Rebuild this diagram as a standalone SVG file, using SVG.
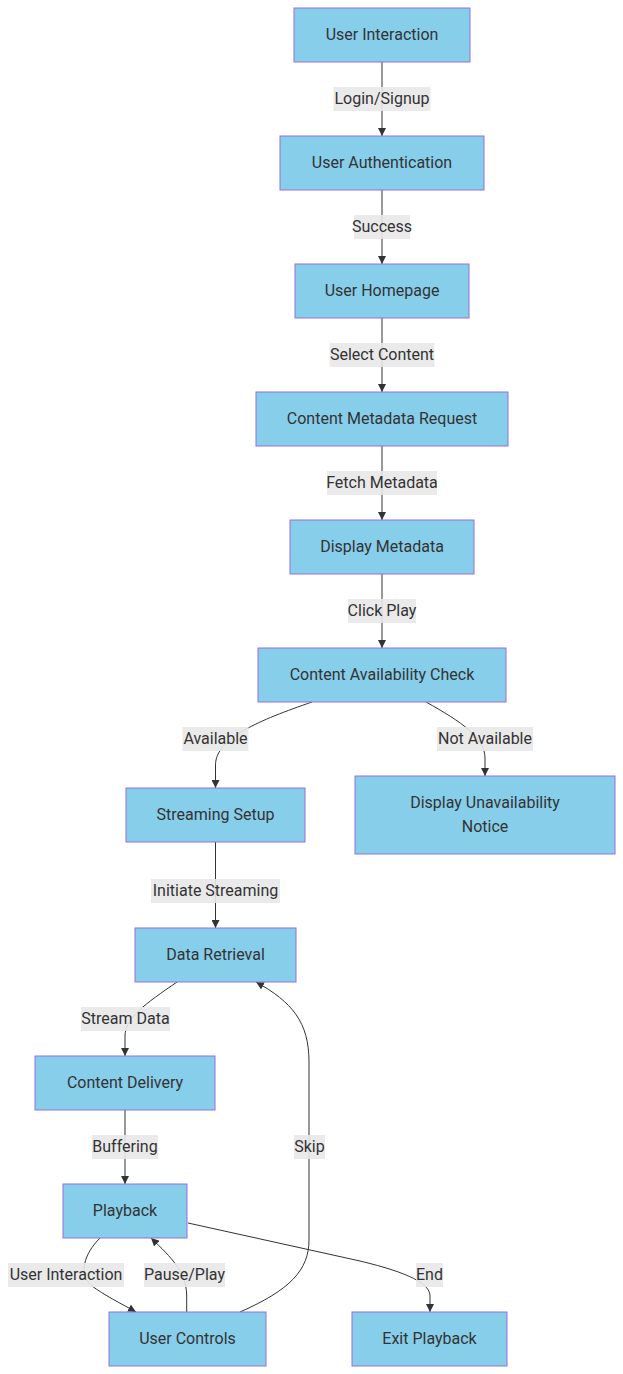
<svg xmlns="http://www.w3.org/2000/svg" width="623" height="1374" viewBox="0 0 623 1374">
<style>
.node rect{fill:#87CEEB;stroke:#9370DB;stroke-width:1}
text{font-family:Roboto,"Noto Sans",sans-serif;font-size:16px;fill:#333;text-anchor:middle;dominant-baseline:central}
.edge{fill:none;stroke:#333;stroke-width:1;marker-end:url(#arrow)}
.lbl rect{fill:#e8e8e8;opacity:0.9}
</style>
<defs>
<marker id="arrow" viewBox="0 0 10 10" refX="10" refY="5" markerWidth="8" markerHeight="8" markerUnits="userSpaceOnUse" orient="auto">
<path d="M0,0 L10,5 L0,10 z" fill="#333"/>
</marker>
</defs>
<rect width="623" height="1374" fill="#fff"/>
<g id="connectors">
<path class="edge" d="M382,62 L382,136"/>
<path class="edge" d="M382,190 L382,264"/>
<path class="edge" d="M382,318 L382,392"/>
<path class="edge" d="M382,446 L382,520"/>
<path class="edge" d="M382,574 L382,648"/>
<path class="edge" d="M312,702 C260,720 215.5,738 215.5,765 L215.5,788"/>
<path class="edge" d="M426,702 C462,722 485,738 485,758 L485,776"/>
<path class="edge" d="M215.5,842 L215.5,928"/>
<path class="edge" d="M177,982 C145,1004 125,1018 125,1036 L125,1056"/>
<path class="edge" d="M125,1110 L125,1184"/>
<path class="edge" d="M100,1238 C84,1254 78,1274 92,1286 C104,1295 120,1303 136,1312"/>
<path class="edge" d="M186.7,1312 L186.7,1295 C186,1272 172,1258 151,1238"/>
<path class="edge" d="M240,1312 C290,1290 309,1270 309,1240 L309,1062 C309,1022 292,1002 256,982"/>
<path class="edge" d="M188,1223 L360,1261 C410,1273 430,1284 430,1296 L430,1312"/>
</g>
<g id="labels">
<g class="lbl"><rect x="333.5" y="87" width="97" height="24"/><text x="382" y="98">Login/Signup</text></g>
<g class="lbl"><rect x="354" y="215" width="56" height="24"/><text x="382" y="226">Success</text></g>
<g class="lbl"><rect x="329.5" y="343" width="105" height="24"/><text x="382" y="354">Select Content</text></g>
<g class="lbl"><rect x="327" y="471" width="110" height="24"/><text x="382" y="482">Fetch Metadata</text></g>
<g class="lbl"><rect x="348" y="599" width="68" height="24"/><text x="382" y="610">Click Play</text></g>
<g class="lbl"><rect x="182.5" y="727" width="66" height="24"/><text x="215.5" y="738">Available</text></g>
<g class="lbl"><rect x="437" y="727" width="96" height="24"/><text x="485" y="738">Not Available</text></g>
<g class="lbl"><rect x="151" y="879" width="129" height="24"/><text x="215.5" y="890">Initiate Streaming</text></g>
<g class="lbl"><rect x="81" y="1007" width="89" height="24"/><text x="125.5" y="1018">Stream Data</text></g>
<g class="lbl"><rect x="92" y="1135" width="66" height="24"/><text x="125" y="1146">Buffering</text></g>
<g class="lbl"><rect x="294" y="1135" width="31" height="24"/><text x="309.5" y="1146">Skip</text></g>
<g class="lbl"><rect x="8" y="1263" width="116" height="24"/><text x="66" y="1274">User Interaction</text></g>
<g class="lbl"><rect x="144" y="1263" width="81" height="24"/><text x="184.5" y="1274">Pause/Play</text></g>
<g class="lbl"><rect x="416" y="1263" width="27" height="24"/><text x="429.5" y="1274">End</text></g>
</g>
<g id="n1" class="node"><rect x="294" y="8" width="176" height="54"/><text x="382" y="34">User Interaction</text></g>
<g id="n2" class="node"><rect x="280" y="136" width="204" height="54"/><text x="382" y="162">User Authentication</text></g>
<g id="n3" class="node"><rect x="295" y="264" width="174" height="54"/><text x="382" y="290">User Homepage</text></g>
<g id="n4" class="node"><rect x="256" y="392" width="252" height="54"/><text x="382" y="418">Content Metadata Request</text></g>
<g id="n5" class="node"><rect x="290" y="520" width="184" height="54"/><text x="382" y="546">Display Metadata</text></g>
<g id="n6" class="node"><rect x="258" y="648" width="248" height="54"/><text x="382" y="674">Content Availability Check</text></g>
<g id="n7" class="node"><rect x="126" y="788" width="179" height="54"/><text x="215.5" y="814">Streaming Setup</text></g>
<g id="n8" class="node"><rect x="355" y="776" width="260" height="78"/><text x="485" y="802">Display Unavailability</text><text x="485" y="826">Notice</text></g>
<g id="n9" class="node"><rect x="135" y="928" width="161" height="54"/><text x="215.5" y="954">Data Retrieval</text></g>
<g id="n10" class="node"><rect x="35" y="1056" width="180" height="54"/><text x="125" y="1082">Content Delivery</text></g>
<g id="n11" class="node"><rect x="63" y="1184" width="124" height="54"/><text x="125" y="1210">Playback</text></g>
<g id="n12" class="node"><rect x="109" y="1312" width="157" height="54"/><text x="187.5" y="1338">User Controls</text></g>
<g id="n13" class="node"><rect x="352" y="1312" width="155" height="54"/><text x="429.5" y="1338">Exit Playback</text></g>
</svg>
